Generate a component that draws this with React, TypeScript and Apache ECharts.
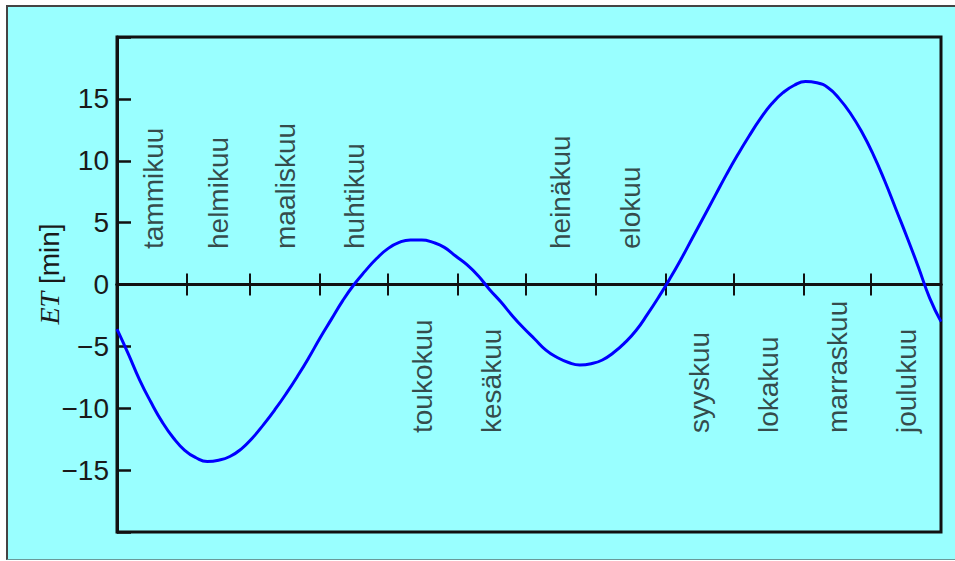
import React, { useEffect, useRef } from "react";
import * as echarts from "echarts";

// Day of year (0 = 1 Jan) and equation of time in minutes
const dayOfYear = [
  0, 5, 10, 15, 20, 25, 30, 35, 40, 45, 50, 55, 60, 65, 70, 75, 80, 85, 90, 95,
  100, 105, 110, 115, 120, 125, 130, 135, 140, 145, 150, 155, 160, 165, 170, 175,
  180, 185, 190, 195, 200, 205, 210, 215, 220, 225, 230, 235, 240, 245, 250, 255,
  260, 265, 270, 275, 280, 285, 290, 295, 300, 305, 310, 315, 320, 325, 330, 335,
  340, 345, 350, 355, 360, 365,
];
const etMinutes = [
  -3.6, -5.6, -7.7, -9.5, -11.1, -12.4, -13.4, -14.0, -14.3, -14.2, -13.9, -13.3,
  -12.4, -11.3, -10.1, -8.8, -7.4, -5.9, -4.3, -2.8, -1.3, 0.0, 1.1, 2.1, 2.9, 3.4,
  3.6, 3.6, 3.4, 3.0, 2.3, 1.6, 0.7, -0.4, -1.4, -2.5, -3.5, -4.4, -5.3, -5.9, -6.3,
  -6.5, -6.4, -6.1, -5.5, -4.7, -3.7, -2.4, -1.0, 0.5, 2.1, 3.8, 5.5, 7.2, 8.9, 10.5,
  12.0, 13.4, 14.6, 15.5, 16.1, 16.4, 16.3, 15.9, 15.0, 13.8, 12.3, 10.5, 8.4, 6.1,
  3.8, 1.4, -1.1, -3.0,
];

// Month boundaries (tick positions) and month names
const monthStartDays = [31, 59, 90, 120, 151, 181, 212, 243, 273, 304, 334];
const monthNames = [
  "tammikuu", "helmikuu", "maaliskuu", "huhtikuu", "toukokuu", "kesäkuu",
  "heinäkuu", "elokuu", "syyskuu", "lokakuu", "marraskuu", "joulukuu",
];
const monthMidDays = [16, 45, 74.5, 105, 135.5, 166, 196.5, 227.5, 258, 288.5, 319, 349.5];
const monthAbove = [true, true, true, true, false, false, true, true, false, false, false, false];

// Y axis
const yMin = -20;
const yMax = 20;
const yStep = 5;

export default function App() {
  const ref = useRef<HTMLDivElement>(null);

  useEffect(() => {
    if (!ref.current) return;
    const chart = echarts.init(ref.current, null, { renderer: "svg" });
    const font = "'Liberation Sans', Arial, Helvetica, sans-serif";
    const ink = "#111";

    const curve = dayOfYear.map((d, i) => [d, etMinutes[i]]);
    const labelData = monthNames.map((name, i) => ({
      name,
      value: [monthMidDays[i], 0],
      label: monthAbove[i]
        ? { position: "top", distance: 35 }
        : { position: "bottom", distance: 148 },
    }));

    const xCommon = {
      type: "value",
      min: 0,
      max: 365,
      splitLine: { show: false },
      axisLabel: { show: false },
    };

    chart.setOption({
      animation: false,
      backgroundColor: "transparent",
      grid: {
        left: 109,
        top: 30,
        right: 14,
        bottom: 27,
        show: true,
        borderColor: ink,
        borderWidth: 3,
        backgroundColor: "transparent",
      },
      xAxis: [
        {
          ...xCommon,
          position: "bottom",
          axisLine: { show: true, onZero: true, onZeroAxisIndex: 0, lineStyle: { color: ink, width: 3 } },
          axisTick: {
            show: true,
            inside: false,
            length: 11,
            customValues: monthStartDays,
            lineStyle: { color: ink, width: 2 },
          },
        },
        {
          ...xCommon,
          position: "top",
          axisLine: { show: true, onZero: true, onZeroAxisIndex: 0, lineStyle: { color: ink, width: 3 } },
          axisTick: {
            show: true,
            inside: false,
            length: 11,
            customValues: monthStartDays,
            lineStyle: { color: ink, width: 2 },
          },
        },
      ],
      yAxis: {
        type: "value",
        min: yMin,
        max: yMax,
        interval: yStep,
        splitLine: { show: false },
        axisLine: { show: true, onZero: false, lineStyle: { color: ink, width: 3 } },
        axisTick: { show: true, inside: true, length: 14, lineStyle: { color: ink, width: 2.5 } },
        axisLabel: {
          margin: 8,
          fontSize: 28,
          fontFamily: font,
          color: "#1a1a1a",
          formatter: (v: number) =>
            v === yMin || v === yMax ? "" : String(v).replace("-", "\u2212"),
        },
        name: "{i|ET} [min]",
        nameLocation: "middle",
        nameRotate: 90,
        nameGap: 54,
        nameMoveOverlap: false,
        nameTextStyle: {
          fontSize: 28,
          fontFamily: font,
          color: "#1a1a1a",
          padding: [0, 0, 0, 21],
          rich: {
            i: {
              fontSize: 28,
              fontFamily: "'Liberation Serif', 'Times New Roman', serif",
              fontStyle: "italic",
              color: "#1a1a1a",
            },
          },
        },
      },
      series: [
        {
          type: "line",
          xAxisIndex: 0,
          data: curve,
          smooth: true,
          showSymbol: false,
          symbol: "none",
          lineStyle: { color: "#0000ff", width: 3 },
          silent: true,
          z: 3,
        },
        {
          type: "scatter",
          xAxisIndex: 0,
          data: labelData,
          symbolSize: 1,
          itemStyle: { color: "rgba(0,0,0,0)" },
          silent: true,
          label: {
            show: true,
            formatter: "{b}",
            rotate: 90,
            align: "left",
            verticalAlign: "middle",
            fontSize: 28,
            fontFamily: font,
            color: "#1a1a1a",
          },
          z: 4,
        },
      ],
    });

    return () => chart.dispose();
  }, []);

  return (
    <div
      style={{
        position: "absolute",
        left: 6,
        top: 5,
        width: 949,
        height: 555,
        boxSizing: "border-box",
        background: "#99ffff",
        borderLeft: "2px solid #444",
        borderTop: "2px solid #444",
        borderBottom: "1px solid #6a9a9a",
      }}
    >
      <div ref={ref} style={{ width: 947, height: 552 }} />
    </div>
  );
}
